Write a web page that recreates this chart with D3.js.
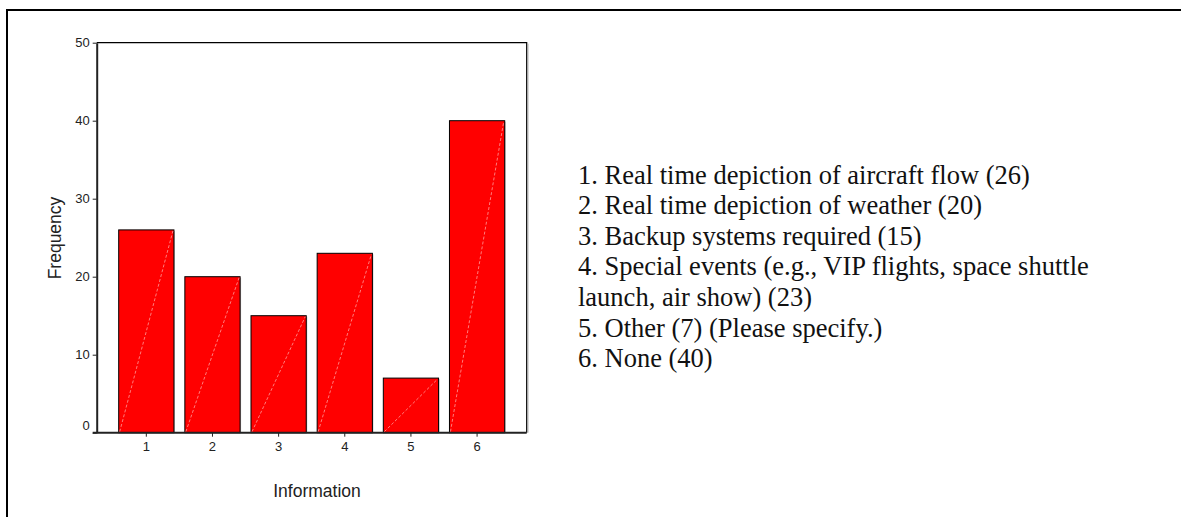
<!DOCTYPE html>
<html>
<head>
<meta charset="utf-8">
<script src="https://cdn.jsdelivr.net/npm/d3@7"></script>
<style>
  body { margin: 0; background: #fff; }
  svg { display: block; }
</style>
</head>
<body>
<div id="chart"></div>
<script>
const categories = ['1', '2', '3', '4', '5', '6'];
const frequencies = [26, 20, 15, 23, 7, 40];
const yTicks = [0, 10, 20, 30, 40, 50];
const legendLines = [
  '1. Real time depiction of aircraft flow (26)',
  '2. Real time depiction of weather (20)',
  '3. Backup systems required (15)',
  '4. Special events (e.g., VIP flights, space shuttle',
  'launch, air show) (23)',
  '5. Other (7) (Please specify.)',
  '6. None (40)'
];

const W = 1181, H = 517;
const plot = { left: 96.7, right: 526.7, top: 42.7, bottom: 432.7 };
const sans = '"Liberation Sans", Arial, sans-serif';
const serif = '"Liberation Serif", "Times New Roman", serif';

const svg = d3.select('#chart').append('svg')
  .attr('width', W).attr('height', H);

// outer page frame (left + top edges only)
svg.append('path')
  .attr('d', `M7,${H} V10 H${W}`)
  .attr('fill', 'none').attr('stroke', '#000').attr('stroke-width', 2);

const x = d3.scaleBand().domain(categories)
  .range([plot.left, plot.right]).paddingInner(0.165).paddingOuter(0.3325);
const y = d3.scaleLinear().domain([0, 50]).range([plot.bottom, plot.top]);

const rows = categories.map((c, i) => ({ cat: c, value: frequencies[i] }));

// plot frame top + right, with a light shadow
svg.append('line')
  .attr('x1', plot.right + 1.5).attr('x2', plot.right + 1.5)
  .attr('y1', plot.top + 1).attr('y2', plot.bottom)
  .attr('stroke', '#c8c8c8').attr('stroke-width', 1);
svg.append('path')
  .attr('d', `M${plot.left},${plot.top} H${plot.right} V${plot.bottom}`)
  .attr('fill', 'none').attr('stroke', '#000').attr('stroke-width', 1.2);

// bar shadows
svg.selectAll('.shadow').data(rows).join('rect').attr('class', 'shadow')
  .attr('x', d => x(d.cat) + 1).attr('y', d => y(d.value) + 1)
  .attr('width', x.bandwidth()).attr('height', d => y(0) - y(d.value) - 1)
  .attr('fill', '#bdbdbd');

svg.selectAll('.bar').data(rows).join('rect').attr('class', 'bar')
  .attr('x', d => x(d.cat)).attr('y', d => y(d.value))
  .attr('width', x.bandwidth()).attr('height', d => y(0) - y(d.value))
  .attr('fill', '#ff0000').attr('stroke', '#000').attr('stroke-width', 1);

// faint diagonal inside each bar
svg.selectAll('.diag').data(rows).join('line').attr('class', 'diag')
  .attr('x1', d => x(d.cat) + 1).attr('y1', y(0) - 1)
  .attr('x2', d => x(d.cat) + x.bandwidth() - 1).attr('y2', d => y(d.value) + 1)
  .attr('stroke', '#ff9c9c').attr('stroke-width', 0.8).attr('stroke-dasharray', '3,2');

// axes
svg.append('g').attr('transform', `translate(${plot.left},0)`)
  .call(d3.axisLeft(y).tickValues(yTicks).tickSize(4).tickSizeOuter(0).tickPadding(3))
  .call(g => g.select('.domain').attr('stroke', '#222').attr('stroke-width', 2))
  .call(g => g.selectAll('.tick line').attr('stroke', '#222').attr('stroke-width', 1))
  .call(g => g.selectAll('.tick text').attr('fill', '#222')
    .attr('font-size', '13px').attr('font-family', sans))
  .call(g => g.selectAll('.tick text').filter(d => d === 0).attr('y', -7.5));

svg.append('g').attr('transform', `translate(0,${plot.bottom})`)
  .call(d3.axisBottom(x).tickSize(4).tickSizeOuter(0).tickPadding(5))
  .call(g => g.select('.domain').attr('d', `M${plot.left - 4},0 H${plot.right}`)
    .attr('stroke', '#222').attr('stroke-width', 2))
  .call(g => g.selectAll('.tick line').attr('stroke', '#222').attr('stroke-width', 1))
  .call(g => g.selectAll('.tick text').attr('fill', '#222')
    .attr('font-size', '13px').attr('font-family', sans));

// axis titles
svg.append('text')
  .attr('transform', 'translate(61,238) rotate(-90)')
  .attr('text-anchor', 'middle').attr('fill', '#222')
  .attr('font-size', '17.5px').attr('font-family', sans)
  .text('Frequency');

svg.append('text')
  .attr('x', 317).attr('y', 497)
  .attr('text-anchor', 'middle').attr('fill', '#222')
  .attr('font-size', '17.5px').attr('font-family', sans)
  .text('Information');

// legend text on the right
svg.append('g').selectAll('text').data(legendLines).join('text')
  .attr('x', 578).attr('y', (d, i) => 183.5 + i * 30.6)
  .attr('fill', '#111').attr('font-size', '26.5px').attr('font-family', serif)
  .text(d => d);
</script>
</body>
</html>
